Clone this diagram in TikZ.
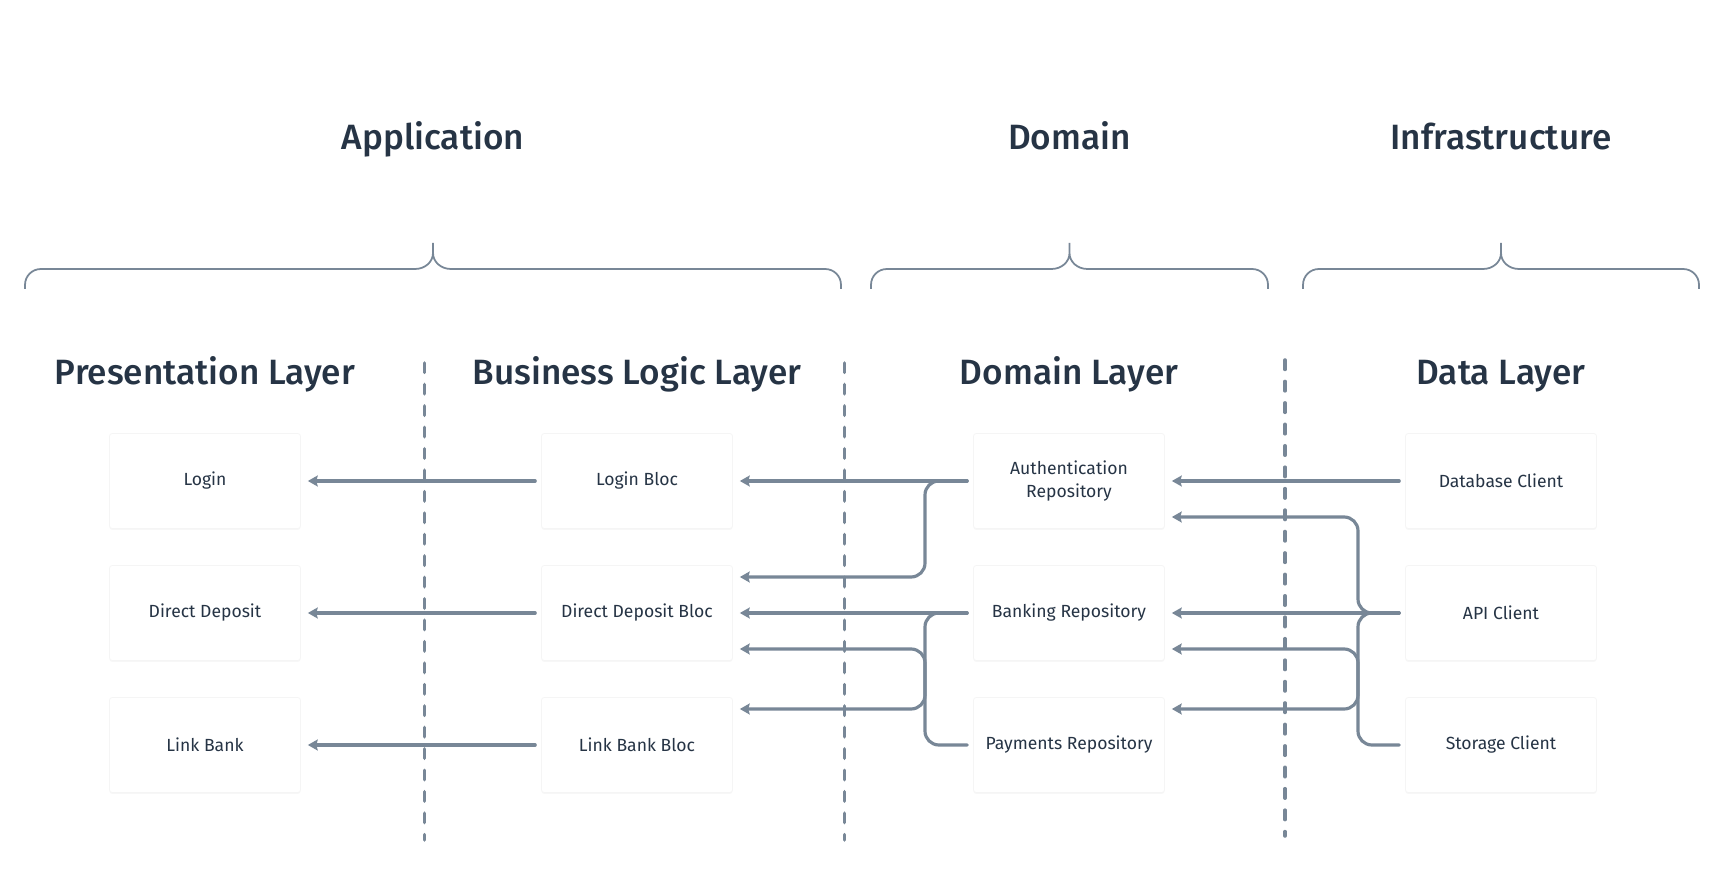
\documentclass[tikz,border=0pt]{standalone}
\usepackage{fontspec}
\setmainfont{Fira Sans}
\newfontfamily\headfont{Fira Sans Medium}
\usetikzlibrary{arrows.meta, calc, shadows}

\definecolor{wirecol}{HTML}{788797}
\definecolor{ink}{HTML}{263445}

\tikzset{
    every box/.style={draw=black!4, fill=white, rounded corners=1.5pt,
        minimum width=3.82cm, minimum height=1.9cm, align=center,
        font=\fontsize{10}{13.6}\selectfont, text=ink,
        drop shadow={shadow xshift=0pt, shadow yshift=-0.8pt, opacity=0.06}},
    group title/.style={anchor=base, text=ink, font=\headfont\fontsize{20}{24}\selectfont},
    layer title/.style={group title},
    wire/.style={draw=wirecol, line width=1.8pt, line cap=round},
    link/.style={wire, ->, shorten <=3.4pt, shorten >=4pt},
    bus/.style={wire, rounded corners=7.9pt},
    brace/.style={draw=wirecol, line width=1pt},
    divider/.style={draw=wirecol, line width=2pt, line cap=round, dash pattern=on 5.4pt off 6.8pt}
}

\begin{document}
\begin{tikzpicture}[x=0.02cm, y=-0.02cm, >={Stealth[length=5.6pt, width=6.2pt, inset=0.8pt]}]
        \fill [white] (0,0) rectangle (1724,874);
        \useasboundingbox (0,0) rectangle (1724,874);

        %%%%%%%%%%%%%%%%%%%%%%%%%%%%%%%%%%%%%%%%%%%%
        % Groups
        %%%%%%%%%%%%%%%%%%%%%%%%%%%%%%%%%%%%%%%%%%%%
        \foreach \a/\m/\e/\l [count=\i] in {25/433/841/Application, 871/1069.5/1268/Domain, 1303/1501/1699/Infrastructure} {
            \draw [brace] (\a,289) -- (\a,285) .. controls (\a,276) and (\a+7,269) .. (\a+16,269)
                -- (\m-18,269) .. controls (\m-8,269) and (\m,262) .. (\m,253) -- (\m,243)
                (\m,253) .. controls (\m,262) and (\m+8,269) .. (\m+18,269)
                -- (\e-16,269) .. controls (\e-7,269) and (\e,276) .. (\e,285) -- (\e,289);
            \node [group title] (group-\i) at (\m,149.5) {\l};
        }

        %%%%%%%%%%%%%%%%%%%%%%%%%%%%%%%%%%%%%%%%%%%%
        % Layers
        %%%%%%%%%%%%%%%%%%%%%%%%%%%%%%%%%%%%%%%%%%%%
        \foreach \l [count=\x from 0] in {Presentation Layer, Business Logic Layer, Domain Layer, Data Layer}
            \node [layer title] (layer-\x) at (205+432*\x,385) {\l};

        % Dividers
        \draw [divider] (424.5,363) -- (424.5,840);
        \draw [divider] (844.5,363) -- (844.5,840);
        \draw [divider] (1285,360) -- (1285,836);

        %%%%%%%%%%%%%%%%%%%%%%%%%%%%%%%%%%%%%%%%%%%%
        % Boxes
        %%%%%%%%%%%%%%%%%%%%%%%%%%%%%%%%%%%%%%%%%%%%
        \foreach \l [count=\y] in {Login, Direct Deposit, Link Bank}
            \node [every box/.try] (pres-\y) at (205,349+132*\y) {\l};

        \foreach \l [count=\y] in {Login Bloc, Direct Deposit Bloc, Link Bank Bloc}
            \node [every box/.try] (logic-\y) at (637,349+132*\y) {\l};

        \foreach \l [count=\y] in {Authentication\\Repository, Banking Repository, Payments Repository}
            \node [every box/.try] (domain-\y) at (1069,349+132*\y) {\l};

        \foreach \l [count=\y] in {Database Client, API Client, Storage Client}
            \node [every box/.try] (data-\y) at (1501,349+132*\y) {\l};

        \coordinate (busA) at (925,0);
        \coordinate (busB) at (1358,0);

        %%%%%%%%%%%%%%%%%%%%%%%%%%%%%%%%%%%%%%%%%%%%
        % Connecting
        %%%%%%%%%%%%%%%%%%%%%%%%%%%%%%%%%%%%%%%%%%%%

        % Business logic to presentation
        \draw [link] (logic-1) -- (pres-1);
        \draw [link] (logic-2) -- (pres-2);
        \draw [link] (logic-3) -- (pres-3);

        % Domain to business logic
        \draw [link] (domain-1) -- (logic-1);
        \draw [link] (domain-2) -- (logic-2);
        \draw [bus, ->] ($(domain-1.west)+(-6,0)$) -- (busA |- domain-1.west) |- ($(logic-2.east)+(7,-36)$);
        \draw [bus] ($(domain-2.west)+(-6,0)$) -- (busA |- domain-2.west) |- ($(domain-3.west)+(-6,0)$);
        \draw [bus, <->] ($(logic-2.east)+(7,36)$) -| ($(busA |- logic-3.east)+(0,-36)$) -- ($(logic-3.east)+(7,-36)$);

        % Data to domain
        \draw [link] (data-1) -- (domain-1);
        \draw [link] (data-2) -- (domain-2);
        \draw [bus, ->] ($(data-2.west)+(-6,0)$) -- (busB |- data-2.west) |- ($(domain-1.east)+(7,36)$);
        \draw [bus] ($(data-3.west)+(-6,0)$) -- (busB |- data-3.west) |- ($(data-2.west)+(-6,0)$);
        \draw [bus, <->] ($(domain-2.east)+(7,36)$) -| ($(busB |- domain-3.east)+(0,-36)$) -- ($(domain-3.east)+(7,-36)$);
    \end{tikzpicture}
\end{document}
